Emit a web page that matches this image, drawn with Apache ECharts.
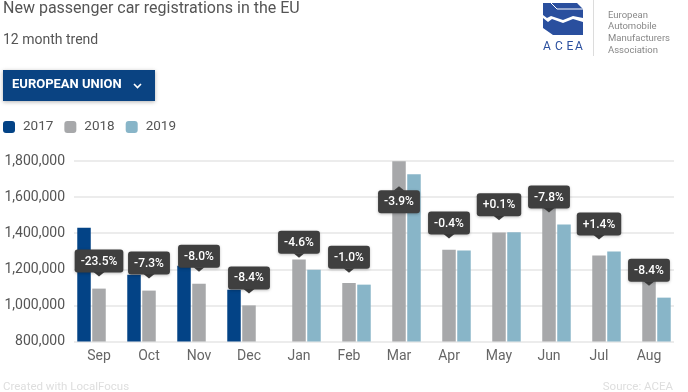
<!DOCTYPE html>
<html>
<head>
<meta charset="utf-8">
<script src="https://cdn.jsdelivr.net/npm/echarts@6/dist/echarts.min.js"></script>
<style>
html,body{margin:0;padding:0;background:#fff;}
#chart{width:688px;height:392px;}
</style>
</head>
<body>
<div id="chart"></div>
<script>
var months = ['Sep','Oct','Nov','Dec','Jan','Feb','Mar','Apr','May','Jun','Jul','Aug'];
var y2017 = [1430000,1170000,1220000,1087000,null,null,null,null,null,null,null,null];
var y2018 = [1093000,1082000,1120000,1000000,1254000,1124000,1798000,1309000,1404000,1570000,1276000,1139000];
var y2019 = [null,null,null,null,1198000,1115000,1726000,1304000,1405000,1448000,1298000,1043000];
var changes = ['-23.5%','-7.3%','-8.0%','-8.4%','-4.6%','-1.0%','-3.9%','-0.4%','+0.1%','-7.8%','+1.4%','-8.4%'];
var yTicks = [800000,1000000,1200000,1400000,1600000,1800000];

var FONT = 'Roboto, "Noto Sans", sans-serif';
var C2017 = '#034386', C2018 = '#a7a8aa', C2019 = '#88b5c8';

var labelData = months.map(function(m,i){
  var cur = (y2019[i] != null) ? y2019[i] : y2018[i];
  return [i, cur];
});

var chart = echarts.init(document.getElementById('chart'), null, {renderer:'canvas'});
var option = {
  animation:false,
  textStyle:{fontFamily:FONT},
  grid:{left:74, right:14, top:161, bottom:50.5, containLabel:false},
  legend:{
    data:['2017','2018','2019'], left:3, top:120, padding:0, icon:'roundRect',
    itemWidth:12, itemHeight:12, itemGap:11, selectedMode:false,
    textStyle:{fontSize:13.5, color:'#555', fontFamily:FONT, padding:[0,0,0,3]}
  },
  xAxis:{
    type:'category', data:months,
    axisLine:{show:false}, axisTick:{show:false},
    axisLabel:{fontSize:14, color:'#666', margin:8, fontFamily:FONT}
  },
  yAxis:{
    type:'value', min:yTicks[0], max:yTicks[yTicks.length-1], interval:200000,
    axisLine:{show:false}, axisTick:{show:false},
    axisLabel:{fontSize:14, color:'#555', margin:9, fontFamily:FONT,
      formatter:function(v){return v.toLocaleString('en-US');}},
    splitLine:{lineStyle:{color:'#ececec', width:2}}
  },
  series:[
    {name:'2017', type:'bar', data:y2017, barWidth:13.5, barGap:'11%', itemStyle:{color:C2017}},
    {name:'2018', type:'bar', data:y2018, barWidth:13.5, barGap:'11%', itemStyle:{color:C2018}},
    {name:'2019', type:'bar', data:y2019, barWidth:13.5, barGap:'11%', itemStyle:{color:C2019}},
    {
      type:'custom', data:labelData, encode:{x:0,y:1}, z:10, silent:true,
      renderItem:function(params, api){
        var pt = api.coord([api.value(0), api.value(1)]);
        var cx = pt[0], top = pt[1];
        var gridTop = params.coordSys.y;
        var gap = 12, tri = 4, boxH = 23;
        var flip = (top - gap - tri - boxH) < gridTop;
        var text = changes[params.dataIndex];
        var tY, triPts, vAlign;
        if(!flip){
          tY = top - gap - tri; vAlign = 'bottom';
          triPts = [[cx-5.5, tY-0.5],[cx+5.5, tY-0.5],[cx, top-gap]];
        } else {
          tY = top + gap + tri; vAlign = 'top';
          triPts = [[cx-5.5, tY+0.5],[cx+5.5, tY+0.5],[cx, top+gap]];
        }
        return {
          type:'group',
          children:[
            {type:'polygon', shape:{points:triPts}, style:{fill:'#3f3f3f'}},
            {type:'text', x:cx, y:tY, style:{
              text:text, fill:'#fff', font:'500 12px '+FONT,
              align:'center', verticalAlign:vAlign,
              backgroundColor:'#3f3f3f', padding:[5,6,4,6], borderRadius:3, lineHeight:14,
              shadowBlur:3, shadowColor:'rgba(0,0,0,0.25)', shadowOffsetY:1
            }}
          ]
        };
      }
    }
  ],
  graphic:[
    {type:'text', left:3, top:1, style:{text:'New passenger car registrations in the EU', font:'16px '+FONT, fill:'#555'}},
    {type:'text', left:3, top:33, style:{text:'12 month trend', font:'14px '+FONT, fill:'#555'}},
    {type:'rect', left:3, top:70, shape:{width:152, height:31}, style:{fill:'#0a4382', shadowBlur:4, shadowColor:'rgba(0,0,0,0.3)', shadowOffsetY:1}},
    {type:'text', left:12, top:78.5, style:{text:'EUROPEAN UNION', font:'bold 13px '+FONT, fill:'#fff'}},
    {type:'polyline', shape:{points:[[134,84],[137.5,87.5],[141,84]]}, style:{stroke:'#fff', lineWidth:1.6, fill:null}},
    // logo
    {type:'polygon', shape:{points:[[543,3],[577,3],[583,9],[583,18],[573,16],[563,20],[551,16],[547,18],[543,15]]}, style:{fill:'#2a4f9e'}},
    {type:'polyline', shape:{points:[[551,3],[557,9],[583,9]]}, style:{stroke:'#fff', lineWidth:1, fill:null}},
    {type:'polygon', shape:{points:[[543,18],[548,22],[552,19],[563,23],[573,19],[583,22],[583,35],[553,35],[543,28]]}, style:{fill:'#2a4f9e'}},
    {type:'text', x:547, y:47, style:{text:'A', font:'12px '+FONT, fill:'#2a4f9e', align:'center', verticalAlign:'middle'}},
    {type:'text', x:559, y:47, style:{text:'C', font:'12px '+FONT, fill:'#2a4f9e', align:'center', verticalAlign:'middle'}},
    {type:'text', x:570, y:47, style:{text:'E', font:'12px '+FONT, fill:'#2a4f9e', align:'center', verticalAlign:'middle'}},
    {type:'text', x:579, y:47, style:{text:'A', font:'12px '+FONT, fill:'#2a4f9e', align:'center', verticalAlign:'middle'}},
    {type:'line', shape:{x1:593.5, y1:0, x2:593.5, y2:56}, style:{stroke:'#dcdcdc', lineWidth:1}},
    {type:'text', x:608, y:15.5, style:{text:'European', font:'9.5px '+FONT, fill:'#888', verticalAlign:'middle'}},
    {type:'text', x:608, y:27, style:{text:'Automobile', font:'9.5px '+FONT, fill:'#888', verticalAlign:'middle'}},
    {type:'text', x:608, y:39, style:{text:'Manufacturers', font:'9.5px '+FONT, fill:'#888', verticalAlign:'middle'}},
    {type:'text', x:608, y:51, style:{text:'Association', font:'9.5px '+FONT, fill:'#888', verticalAlign:'middle'}},
    // footer
    {type:'text', x:3, y:387, style:{text:'Created with LocalFocus', font:'11.5px '+FONT, fill:'#dedede', verticalAlign:'middle'}},
    {type:'text', x:673, y:387, style:{text:'Source: ACEA', font:'11.5px '+FONT, fill:'#dedede', align:'right', verticalAlign:'middle'}}
  ]
};
chart.setOption(option);
</script>
</body>
</html>
